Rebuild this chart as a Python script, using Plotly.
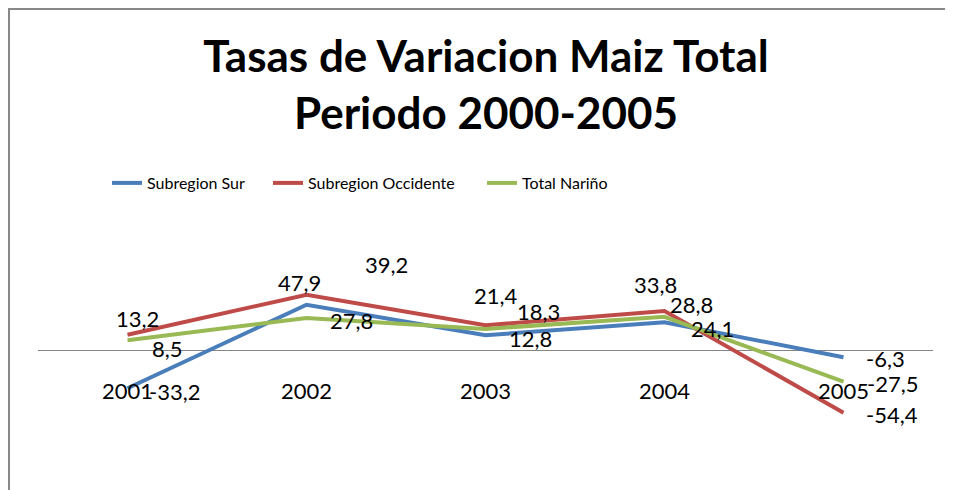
import plotly.graph_objects as go

years = ["2001", "2002", "2003", "2004", "2005"]
sur = [-33.2, 39.2, 12.8, 24.1, -6.3]
occidente = [13.2, 47.9, 21.4, 33.8, -54.4]
narino = [8.5, 27.8, 18.3, 28.8, -27.5]

series = [
    ("Subregion Sur", sur, "#4A7EBB", "legend", 99),
    ("Subregion Occidente", occidente, "#BE4B48", "legend2", 260),
    ("Total Nariño", narino, "#98B954", "legend3", 474),
]

# label offsets (px) per series, per point
offsets = {
    "Subregion Sur": [(47, 3), (80, -40), (45, 3), (48, 6), (42, 1)],
    "Subregion Occidente": [(10, -16), (-7, -12), (10, -30), (-9, -27), (48, 2)],
    "Total Nariño": [(40, 8), (45, 3), (53, -17), (27, -12), (49, 2)],
}

FONT = "Lato"
ML, MT, PW, PH = 30, 207, 895, 255   # plot area in figure px
ZERO_Y = 342                          # zero line in figure px
SCALE = 1.153                         # px per unit


def px(xf):
    return (xf - ML) / PW


def py(yf):
    return (MT + PH - yf) / PH


fig = go.Figure()
legends = {}
for name, vals, col, lg, lx in series:
    fig.add_trace(go.Scatter(x=list(range(len(years))), y=vals, name=name, mode="lines",
                             line=dict(color=col, width=4), legend=lg))
    legends[lg] = dict(orientation="h", x=px(lx), xanchor="left",
                       y=py(175), yanchor="middle",
                       font=dict(family=FONT, size=16, color="#000000"),
                       bgcolor="rgba(0,0,0,0)")

ann = []
for name, vals, col, lg, lx in series:
    for i, v in enumerate(vals):
        dx, dy = offsets[name][i]
        ann.append(dict(x=i, y=v, xref="x", yref="y", text=f"{v:.1f}".replace(".", ","),
                        showarrow=False, xshift=dx, yshift=-dy,
                        font=dict(family=FONT, size=22, color="#000000")))
for i, yr in enumerate(years):
    ann.append(dict(x=i, y=0, xref="x", yref="y", text=yr, showarrow=False,
                    yshift=-40, font=dict(family=FONT, size=22, color="#000000")))

fig.update_layout(
    width=953, height=490,
    margin=dict(l=ML, r=953 - ML - PW, t=MT, b=490 - MT - PH),
    paper_bgcolor="white", plot_bgcolor="white",
    title=dict(text="<b>Tasas de Variacion Maiz Total<br>Periodo 2000-2005</b>",
               x=478 / 953, xanchor="center", y=1 - 64 / 490, yanchor="middle",
               font=dict(family=FONT, size=44, color="#000000")),
    xaxis=dict(type="linear", showticklabels=False, showgrid=False, zeroline=False,
               showline=False, ticks="", range=[-0.5, len(years) - 0.5]),
    yaxis=dict(showticklabels=False, showgrid=False, zeroline=True, zerolinecolor="#868686",
               zerolinewidth=1, showline=False, ticks="",
               range=[-(MT + PH - ZERO_Y) / SCALE, (ZERO_Y - MT) / SCALE]),
    annotations=ann,
    shapes=[dict(type="rect", xref="paper", yref="paper",
                 x0=px(1), x1=px(975), y0=py(510), y1=py(1),
                 line=dict(color="#888888", width=2), fillcolor="rgba(0,0,0,0)")],
    showlegend=True,
    **legends,
)

fig.write_html("out.html")
